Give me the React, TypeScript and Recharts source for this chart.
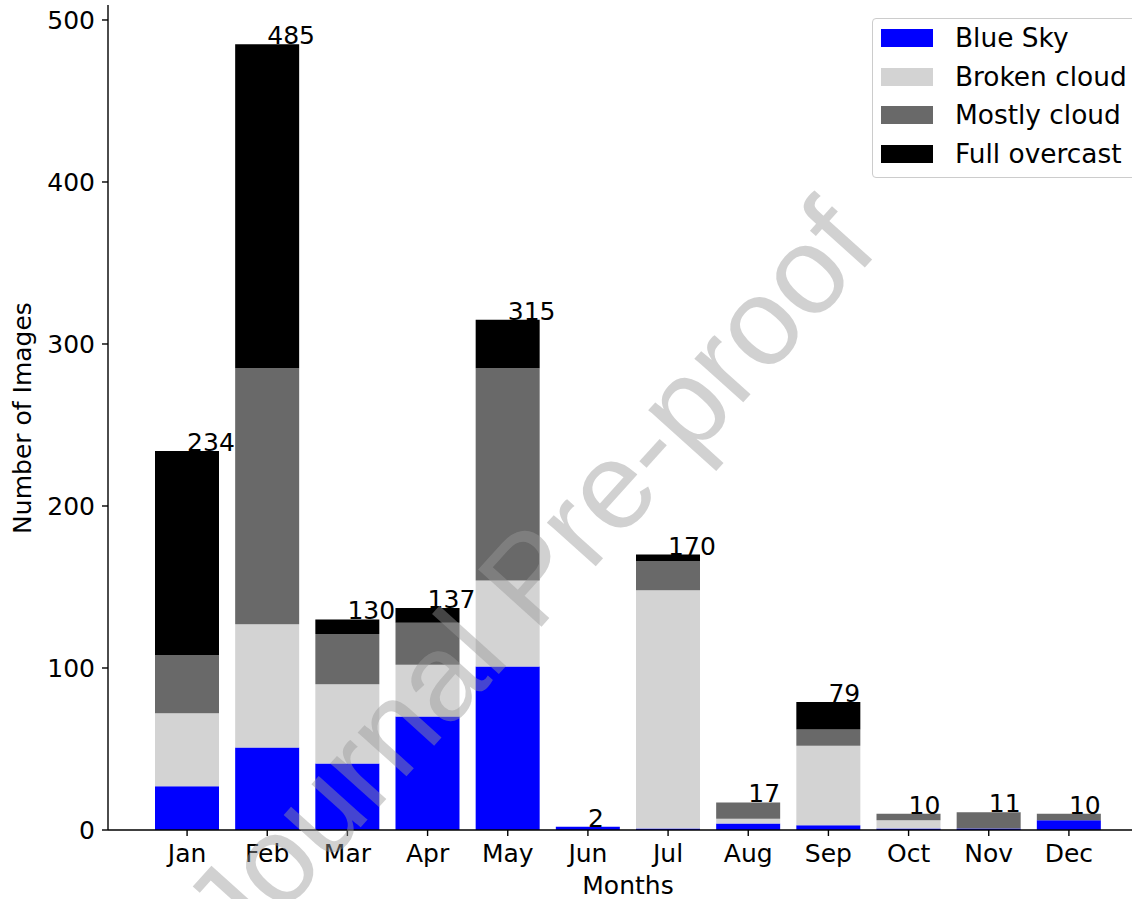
import React from "react";
import { Bar, ComposedChart, LabelList, Legend, Line, XAxis, YAxis } from "recharts";

const months = ["Jan", "Feb", "Mar", "Apr", "May", "Jun", "Jul", "Aug", "Sep", "Oct", "Nov", "Dec"];
const blueSky = [27, 51, 41, 70, 101, 2, 1, 4, 3, 1, 1, 6];
const brokenCloud = [45, 76, 49, 32, 53, 0, 147, 3, 49, 5, 0, 0];
const mostlyCloud = [36, 158, 31, 26, 131, 0, 18, 10, 10, 4, 10, 4];
const fullOvercast = [126, 200, 9, 9, 30, 0, 4, 0, 17, 0, 0, 0];
const totals = [234, 485, 130, 137, 315, 2, 170, 17, 79, 10, 11, 10];
const yTicks = [0, 100, 200, 300, 400, 500];

const SERIES = [
  { key: "blue", name: "Blue Sky", color: "#0000ff" },
  { key: "broken", name: "Broken cloud", color: "#d3d3d3" },
  { key: "mostly", name: "Mostly cloud", color: "#696969" },
  { key: "overcast", name: "Full overcast", color: "#000000" },
];

const data = months.map((m, i) => ({
  month: m,
  blue: blueSky[i],
  broken: brokenCloud[i],
  mostly: mostlyCloud[i],
  overcast: fullOvercast[i],
  total: totals[i],
}));

const FONT = "DejaVu Sans";

// total drawn left-aligned from the bar centre, baseline on the bar top
function TotalLabel(props: any) {
  const { x, y, value } = props;
  return (
    <text x={Number(x)} y={Number(y)} fontSize={25} fill="#000" fontFamily={FONT}>
      {value}
    </text>
  );
}

function LegendBox() {
  return (
    <div
      style={{
        width: 266,
        height: 158,
        border: "1px solid #cccccc",
        borderRadius: 4,
        background: "rgba(255,255,255,0.8)",
        fontFamily: FONT,
        fontSize: 26.4,
        position: "relative",
      }}
    >
      {SERIES.map((s, i) => (
        <div key={s.key} style={{ position: "absolute", left: 8, top: 10 + i * 38.7, height: 18, display: "flex", alignItems: "center" }}>
          <div style={{ width: 52, height: 18, background: s.color }} />
          <span style={{ marginLeft: 22, color: "#000", lineHeight: "18px", whiteSpace: "nowrap" }}>{s.name}</span>
        </div>
      ))}
    </div>
  );
}

export default function App() {
  return (
    <div style={{ position: "absolute", left: 0, top: 0, width: 1132, height: 899, overflow: "hidden", background: "#fff" }}>
      <ComposedChart
        width={1160}
        height={899}
        data={data}
        margin={{ top: 5, right: 11, bottom: 0, left: 0 }}
        barSize={64}
        style={{ fontFamily: FONT }}
      >
        <XAxis
          dataKey="month"
          interval={0}
          padding={{ left: 39, right: 40 }}
          height={69}
          tick={{ fontSize: 25, fill: "#000", fontFamily: FONT }}
          tickSize={6}
          tickMargin={8}
          axisLine={{ stroke: "#000", strokeWidth: 1.4 }}
          tickLine={{ stroke: "#000", strokeWidth: 1.4 }}
          label={() => (
            <text x={628} y={894} textAnchor="middle" fontSize={25} fill="#000" fontFamily={FONT}>
              Months
            </text>
          )}
        />
        <YAxis
          type="number"
          domain={[0, 509.25]}
          ticks={yTicks}
          width={108}
          tick={{ fontSize: 25, fill: "#000", fontFamily: FONT }}
          tickSize={6}
          tickMargin={7}
          axisLine={{ stroke: "#000", strokeWidth: 1.4 }}
          tickLine={{ stroke: "#000", strokeWidth: 1.4 }}
          label={() => (
            <text transform="translate(31,418) rotate(-90)" textAnchor="middle" fontSize={25} fill="#000" fontFamily={FONT}>
              Number of Images
            </text>
          )}
        />
        <Legend
          layout="horizontal"
          verticalAlign="middle"
          align="center"
          content={() => <LegendBox />}
          wrapperStyle={{ position: "absolute", left: 872, top: 18, width: 268, height: 160 }}
        />
        {SERIES.map((s) => (
          <Bar key={s.key} dataKey={s.key} name={s.name} stackId="a" fill={s.color} isAnimationActive={false} />
        ))}
        <Line
          dataKey="total"
          stroke="none"
          dot={false}
          activeDot={false}
          legendType="none"
          isAnimationActive={false}
        >
          <LabelList dataKey="total" content={TotalLabel} />
        </Line>
      </ComposedChart>
      <svg width={1132} height={899} style={{ position: "absolute", left: 0, top: 0, pointerEvents: "none" }}>
        <text
          x={560}
          y={606}
          transform="rotate(-48 560 606)"
          textAnchor="middle"
          fontFamily="Liberation Sans"
          fontSize={124}
          fill="#989898"
          fillOpacity={0.45}
        >
          Journal Pre-proof
        </text>
      </svg>
    </div>
  );
}
